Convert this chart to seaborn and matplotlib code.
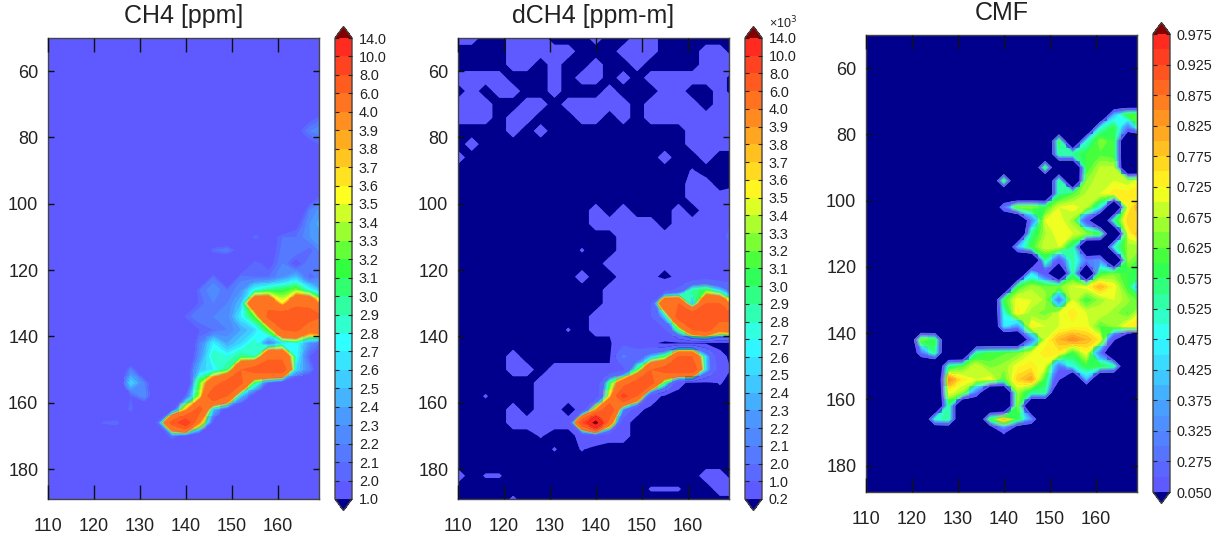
import numpy as np
import pandas as pd
import matplotlib
matplotlib.use("Agg")
import matplotlib.pyplot as plt
from matplotlib.colors import BoundaryNorm, ListedColormap
import seaborn as sns

X_NODES = [110, 113, 116, 119, 122, 125, 128, 131, 134, 137, 140, 143, 146, 149, 152, 155, 158, 161, 164, 167, 170]
Y_NODES = [50, 54, 58, 62, 66, 70, 74, 78, 82, 86, 90, 94, 98, 102, 106, 110, 114, 118, 122, 126, 130, 134, 138, 142, 146, 150, 154, 158, 162, 166, 170, 174, 178, 182, 186, 190]
X_TICKS = [110, 120, 130, 140, 150, 160]
Y_TICKS = [60, 80, 100, 120, 140, 160, 180]

o = 1.5
CH4 = [
 [o,o,o,o,o,o,o,o,o,o,o,o,o,o,o,o,o,o,o,o,o],
 [o,o,o,o,o,o,o,o,o,o,o,o,o,o,o,o,o,o,o,o,o],
 [o,o,o,o,o,o,o,o,o,o,o,o,o,o,o,o,o,o,o,o,o],
 [o,o,o,o,o,o,o,o,o,o,o,o,o,o,o,o,o,o,o,o,o],
 [o,o,o,o,o,o,o,o,o,o,o,o,o,o,o,o,o,o,o,o,o],
 [o,o,o,o,o,o,o,o,o,o,o,o,o,o,o,o,o,o,o,o,o],
 [o,o,o,o,o,o,o,o,o,o,o,o,o,o,o,o,o,o,o,1.9,2.1],
 [o,o,o,o,o,o,o,o,o,o,o,o,o,o,o,o,o,o,1.9,2.2,2.3],
 [o,o,o,o,o,o,o,o,o,o,o,o,o,o,o,o,o,o,o,1.9,2.05],
 [o,o,o,o,o,o,o,o,o,o,o,o,o,o,o,o,o,o,o,o,1.9],
 [o,o,o,o,o,o,o,o,o,o,o,o,o,o,o,o,o,o,o,o,1.9],
 [o,o,o,o,o,o,o,o,o,o,o,o,o,o,o,o,o,o,o,o,1.9],
 [o,o,o,o,o,o,o,o,o,o,o,o,o,o,o,o,o,o,o,1.8,2.1],
 [o,o,o,o,o,o,o,o,o,o,o,o,o,o,o,o,o,o,o,2.2,2.4],
 [o,o,o,o,o,o,o,o,o,o,o,o,o,o,o,o,o,o,1.9,2.3,2.5],
 [o,o,o,o,o,o,o,o,o,o,o,o,o,o,o,2.1,1.8,2.1,2.1,2.3,2.4],
 [o,o,o,o,o,o,o,o,o,o,o,o,2.1,2.2,1.8,o,1.8,2.15,2.2,2.05,2.3],
 [o,o,o,o,o,o,o,o,o,o,o,o,o,o,o,2.1,1.9,2.2,1.9,2.2,2.1],
 [o,o,o,o,o,o,o,o,o,o,o,o,2.1,o,2.15,2.1,2.1,2.3,2.5,2.05,2.2],
 [o,o,o,o,o,o,o,o,o,o,o,2.1,2.3,2.1,2.3,2.8,3.0,3.1,3.3,2.8,2.4],
 [o,o,o,o,o,o,o,o,o,o,o,2.05,2.2,2.2,2.5,5.5,5.5,3.6,5.5,5.5,3.5],
 [o,o,o,o,o,o,o,o,o,o,2.05,2.2,2.2,2.25,2.7,3.2,6.5,7.5,7.5,7.0,6.0],
 [o,o,o,o,o,o,o,o,o,o,o,2.0,2.1,2.2,2.4,2.6,3.2,6.0,6.5,4.5,5.0],
 [o,o,o,o,o,o,o,o,o,o,o,2.2,2.7,2.4,2.6,2.9,2.2,2.6,2.8,2.3,2.0],
 [o,o,o,o,o,o,o,o,o,o,o,2.3,2.9,2.8,3.0,2.9,5.5,5.5,2.8,2.0,o],
 [o,o,o,o,o,o,2.2,o,o,o,1.8,2.5,2.7,3.0,6.0,7.0,7.5,7.5,2.6,2.2,o],
 [o,o,o,o,o,o,2.6,2.2,o,o,o,3.2,5.0,7.0,6.5,3.0,2.0,o,o,o,o],
 [o,o,o,o,o,o,2.0,2.3,o,o,2.05,3.4,8.0,6.0,2.5,1.8,o,o,o,o,o],
 [o,o,o,o,o,o,2.1,o,o,1.8,3.8,7.0,2.5,1.8,o,o,o,o,o,o,o],
 [o,o,o,o,2.05,2.1,o,o,2.1,7.0,10.0,4.0,1.9,o,o,o,o,o,o,o,o],
 [o,o,o,o,o,o,o,o,o,2.15,1.8,o,o,o,o,o,o,o,o,o,o],
 [o,o,o,o,o,o,o,o,o,o,o,o,o,o,o,o,o,o,o,o,o],
 [o,o,o,o,o,o,o,o,o,o,o,o,o,o,o,o,o,o,o,o,o],
 [o,o,o,o,o,o,o,o,o,o,o,o,o,o,o,o,o,o,o,o,o],
 [o,o,o,o,o,o,o,o,o,o,o,o,o,o,o,o,o,o,o,o,o],
 [o,o,o,o,2.05,o,o,o,o,o,o,o,o,o,o,o,o,o,o,o,o],
]

n = 0.1
a = 0.3
s = 0.22
DCH4 = [
 [a,a,n,n,a,a,a,n,n,n,a,n,n,a,a,n,n,n,n,n,n],
 [n,n,n,n,a,a,a,a,a,n,n,n,a,a,a,n,n,n,a,a,n],
 [n,n,n,n,a,a,n,a,n,n,a,n,n,a,n,n,n,n,a,a,a],
 [a,a,a,a,n,n,n,a,n,a,a,n,a,n,a,a,a,a,a,a,n],
 [n,a,n,a,a,n,n,a,n,n,n,a,n,n,n,a,a,n,n,a,n],
 [a,a,a,n,n,a,a,n,a,a,a,a,a,n,a,a,a,a,n,a,a],
 [a,a,a,n,a,a,n,n,n,a,a,n,a,n,a,a,a,a,a,a,a],
 [n,n,n,n,a,n,a,n,n,n,n,n,n,n,n,n,n,a,a,a,a],
 [n,a,n,n,n,n,n,n,n,n,n,n,n,n,n,n,n,a,a,a,a],
 [a,n,n,n,n,n,n,n,n,n,n,n,n,n,n,a,n,n,a,n,n],
 [n,n,n,n,n,n,n,n,n,n,n,n,n,n,n,n,n,s,n,n,n],
 [n,n,n,n,n,n,n,n,n,n,n,n,n,n,n,n,n,a,a,n,n],
 [n,n,n,n,n,n,n,n,n,n,n,n,n,n,n,n,n,a,a,a,0.5],
 [n,n,n,n,n,n,n,n,n,n,a,n,a,n,n,n,a,n,a,0.6,0.9],
 [n,n,n,n,n,n,n,n,n,n,a,a,a,a,a,n,a,a,a,0.6,1.1],
 [n,n,n,n,n,n,n,n,n,n,n,n,a,a,a,a,a,a,a,0.8,1.3],
 [n,n,n,n,n,n,n,n,n,s,n,n,a,a,a,a,a,a,a,a,0.8],
 [n,n,n,n,n,n,n,n,n,n,n,a,a,a,a,a,a,a,a,a,0.6],
 [n,n,n,n,n,n,n,n,n,a,n,n,a,a,a,n,a,a,0.6,a,0.6],
 [n,n,n,n,n,n,n,n,n,n,n,a,a,a,a,0.7,1.2,2.9,3.1,2.5,1.5],
 [n,n,n,n,n,n,n,n,n,n,n,a,a,a,0.9,6.0,6.0,2.3,6.0,6.0,3.5],
 [n,n,n,n,n,n,n,n,n,n,a,a,a,a,1.0,2.5,7.0,8.0,8.0,7.0,6.5],
 [n,n,n,n,n,n,n,n,s,n,a,a,a,a,a,0.9,3.0,6.0,7.0,4.5,5.0],
 [n,n,n,n,n,n,n,n,n,n,n,n,0.8,0.6,a,n,n,n,n,n,n],
 [n,n,n,n,a,n,n,n,n,n,n,n,2.2,1.5,2.4,3.0,6.0,6.0,2.5,a,n],
 [n,n,n,n,a,a,n,a,a,a,a,a,0.8,3.0,6.0,7.0,8.0,8.0,2.5,0.6,n],
 [n,n,n,n,n,n,a,a,a,a,a,3.0,5.0,7.0,7.0,3.0,a,n,n,s,n],
 [n,n,s,n,n,n,a,a,a,a,a,3.6,9.0,6.0,0.5,n,n,n,n,n,n],
 [n,n,n,n,a,n,a,a,n,a,3.9,8.0,2.2,a,n,n,n,n,n,n,n],
 [n,n,n,n,a,a,a,a,a,8.0,16.0,5.0,a,n,n,n,n,n,n,n,n],
 [n,n,n,n,n,n,s,n,n,a,0.5,a,a,n,n,n,n,n,n,n,n],
 [n,n,n,n,n,n,n,s,n,s,n,n,n,n,n,n,n,n,n,n,n],
 [n,n,n,n,n,n,n,n,n,n,n,n,n,n,n,n,n,n,n,n,n],
 [a,n,s,s,n,n,n,n,n,n,n,n,n,n,n,n,n,n,a,a,n],
 [n,n,n,n,n,n,n,n,n,n,n,n,n,n,s,s,s,n,n,a,a],
 [s,n,n,n,a,n,n,n,n,n,n,n,n,n,n,n,n,n,n,n,n],
]

z = -0.5
CMF = [
 [z,z,z,z,z,z,z,z,z,z,z,z,z,z,z,z,z,z,z,z,z],
 [z,z,z,z,z,z,z,z,z,z,z,z,z,z,z,z,z,z,z,z,z],
 [z,z,z,z,z,z,z,z,z,z,z,z,z,z,z,z,z,z,z,z,z],
 [z,z,z,z,z,z,z,z,z,z,z,z,z,z,z,z,z,z,z,z,z],
 [z,z,z,z,z,z,z,z,z,z,z,z,z,z,z,z,z,z,z,z,z],
 [z,z,z,z,z,z,z,z,z,z,z,z,z,z,z,z,z,z,z,z,z],
 [z,z,z,z,z,z,z,z,z,z,z,z,z,z,z,z,z,z,0.4,0.62,0.62],
 [z,z,z,z,z,z,z,z,z,z,z,z,z,z,z,z,z,0.5,0.6,0.3,0.6],
 [z,z,z,z,z,z,z,z,z,z,z,z,z,z,0.6,z,0.5,0.65,0.6,z,z],
 [z,z,z,z,z,z,z,z,z,z,z,z,z,z,0.55,0.55,0.6,0.62,0.6,z,z],
 [z,z,z,z,z,z,z,z,z,z,z,z,z,0.6,z,z,0.6,0.68,0.68,z,z],
 [z,z,z,z,z,z,z,z,z,z,0.6,z,z,z,0.55,z,0.65,0.7,0.7,0.68,0.72],
 [z,z,z,z,z,z,z,z,z,z,z,z,z,z,0.55,0.62,0.68,0.7,0.74,0.74,0.74],
 [z,z,z,z,z,z,z,z,z,z,0.3,0.65,0.66,0.6,0.7,0.72,0.68,0.5,z,0.72,0.85],
 [z,z,z,z,z,z,z,z,z,z,z,z,0.3,0.7,0.72,0.66,0.2,z,0.55,0.77,0.77],
 [z,z,z,z,z,z,z,z,z,z,z,z,0.55,0.67,0.72,0.7,0.66,0.6,z,0.72,0.82],
 [z,z,z,z,z,z,z,z,z,z,z,0.4,0.6,0.7,0.7,0.55,z,z,0.5,0.66,0.66],
 [z,z,z,z,z,z,z,z,z,z,z,z,z,0.55,0.2,0.55,0.3,0.35,z,0.66,0.6],
 [z,z,z,z,z,z,z,z,z,z,z,z,0.45,0.2,z,0.55,z,0.6,0.64,0.6,0.6],
 [z,z,z,z,z,z,z,z,z,z,z,0.6,0.67,0.64,0.64,0.7,0.72,0.8,0.72,0.6,0.3],
 [z,z,z,z,z,z,z,z,z,z,0.6,0.72,0.7,0.67,0.3,0.7,0.6,0.66,0.7,0.66,0.6],
 [z,z,z,z,z,z,z,z,z,z,0.5,0.74,0.66,0.64,0.7,0.74,0.7,0.7,0.66,0.62,0.72],
 [z,z,z,z,z,z,z,z,z,z,0.45,0.35,0.74,0.7,0.7,0.72,0.72,0.62,0.66,0.74,0.74],
 [z,z,z,z,0.65,0.6,z,z,z,z,z,z,0.3,0.7,0.8,0.85,0.8,0.74,0.1,z,z],
 [z,z,z,z,0.3,0.55,z,z,0.55,0.6,0.62,0.64,0.7,0.74,0.74,0.6,0.72,0.3,z,z,z],
 [z,z,z,z,z,z,0.55,0.62,0.7,0.64,0.66,0.72,0.74,0.7,0.3,0.5,0.6,0.6,0.55,z,z],
 [z,z,z,z,z,z,0.85,0.74,0.7,0.72,0.62,0.77,0.82,0.6,0.1,z,0.4,z,z,z,z],
 [z,z,z,z,z,z,0.72,0.66,0.3,z,z,0.66,0.55,0.55,z,z,z,z,z,z,z],
 [z,z,z,z,z,z,0.55,z,z,z,z,0.66,z,z,z,z,z,z,z,z,z],
 [z,z,z,z,z,0.5,0.55,z,z,0.6,0.8,0.6,0.35,z,z,z,z,z,z,z,z],
 [z,z,z,z,z,z,z,z,z,z,0.15,z,z,z,z,z,z,z,z,z,z],
 [z,z,z,z,z,z,z,z,z,z,z,z,z,z,z,z,z,z,z,z,z],
 [z,z,z,z,z,z,z,z,z,z,z,z,z,z,z,z,z,z,z,z,z],
 [z,z,z,z,z,z,z,z,z,z,z,z,z,z,z,z,z,z,z,z,z],
 [z,z,z,z,z,z,z,z,z,z,z,z,z,z,z,z,z,z,z,z,z],
 [z,z,z,z,z,z,z,z,z,z,z,z,z,z,z,z,z,z,z,z,z],
]

CH4_LEVELS = [1.0, 2.0, 2.1, 2.2, 2.3, 2.4, 2.5, 2.6, 2.7, 2.8, 2.9, 3.0, 3.1, 3.2, 3.3, 3.4, 3.5, 3.6, 3.7, 3.8, 3.9, 4.0, 6.0, 8.0, 10.0, 14.0]
DCH4_LEVELS = [0.2, 1.0, 2.0, 2.1, 2.2, 2.3, 2.4, 2.5, 2.6, 2.7, 2.8, 2.9, 3.0, 3.1, 3.2, 3.3, 3.4, 3.5, 3.6, 3.7, 3.8, 3.9, 4.0, 6.0, 8.0, 10.0, 14.0]
CMF_LEVELS = [0.05, 0.25, 0.275, 0.3, 0.325, 0.35, 0.375, 0.4, 0.425, 0.45, 0.475, 0.5, 0.525, 0.55, 0.575, 0.6, 0.625, 0.65, 0.675, 0.7, 0.725, 0.75, 0.775, 0.8, 0.825, 0.85, 0.875, 0.9, 0.925, 0.95, 0.975]
CMF_TICKS = [0.05, 0.275, 0.325, 0.375, 0.425, 0.475, 0.525, 0.575, 0.625, 0.675, 0.725, 0.775, 0.825, 0.875, 0.925, 0.975]

ANCHORS = ["#5f5aff", "#4a9bff", "#30ffff", "#30ff40", "#ffff20", "#ff9020", "#ff2a20"]
UNDER = "#00008c"
OVER = "#820000"
W, H = 1219, 539
EXT = 0.025

sns.set_theme(style="white")
plt.rcParams["font.family"] = ["Liberation Sans", "DejaVu Sans"]
fig = plt.figure(figsize=(W / 100, H / 100), dpi=100)


def box(l, t, r, b):
    return [l / W, 1 - b / H, (r - l) / W, (b - t) / H]


def panel(values, levels, ticks, fmt, title, main, bar, ylim_max):
    frame = pd.DataFrame(values, index=Y_NODES, columns=X_NODES)
    cmap = ListedColormap(sns.blend_palette(ANCHORS, n_colors=len(levels) - 1))
    cmap.set_under(UNDER)
    cmap.set_over(OVER)
    norm = BoundaryNorm(levels, cmap.N)
    ax = fig.add_axes(box(*main))
    body = bar[3] - bar[1]
    cax = fig.add_axes(box(bar[0], bar[1] - EXT * body, bar[2], bar[3] + EXT * body))
    sns.heatmap(frame, ax=ax, cbar_ax=cax, cmap=cmap, norm=norm,
                xticklabels=False, yticklabels=False,
                cbar_kws=dict(extend="both", extendfrac=EXT, ticks=ticks, spacing="uniform"))
    gx = np.arange(len(X_NODES)) + 0.5
    gy = np.arange(len(Y_NODES)) + 0.5
    ax.contourf(gx, gy, frame.values, levels=levels, cmap=cmap, norm=norm, extend="both", antialiased=True)

    to_x = lambda v: np.interp(v, X_NODES, gx)
    to_y = lambda v: np.interp(v, Y_NODES, gy)
    ax.set_axisbelow(False)
    ax.set_xlim(to_x(110), to_x(169))
    ax.set_ylim(to_y(ylim_max), to_y(50))
    ax.set_xticks([to_x(v) for v in X_TICKS], [str(v) for v in X_TICKS])
    ax.set_yticks([to_y(v) for v in Y_TICKS], [str(v) for v in Y_TICKS])
    ax.set_xlabel("")
    ax.set_ylabel("")
    ax.tick_params(axis="x", direction="in", length=10, width=1, color="#111111", top=True, bottom=True,
                   labelsize=13, pad=14, labelcolor="#222222")
    ax.tick_params(axis="y", direction="in", length=4.5, width=1, color="#111111", left=True, right=True,
                   labelsize=13, pad=7, labelcolor="#222222")
    for sp in ax.spines.values():
        sp.set_visible(True)
        sp.set_color("#444444")
        sp.set_linewidth(1)
    ax.set_title(title, fontsize=18, color="#222222", pad=11)

    cb = ax.collections[0].colorbar
    cb.outline.set_visible(True)
    cb.outline.set_linewidth(1)
    cb.outline.set_edgecolor("#444444")
    cb.ax.minorticks_off()
    cb.set_ticks(ticks, labels=[fmt.format(v) for v in ticks])
    cb.ax.set_axisbelow(False)
    cb.ax.tick_params(direction="in", length=3, width=0.8, color="#222222", right=True, left=True,
                      labelsize=10.4, pad=5, labelcolor="#222222")
    return ax, cb


panel(CH4, CH4_LEVELS, CH4_LEVELS, "{:.1f}", "CH4 [ppm]", (48, 38, 319, 499), (335, 38, 352, 499), 189)
panel(DCH4, DCH4_LEVELS, DCH4_LEVELS, "{:.1f}", "dCH4 [ppm-m]", (458, 38, 729, 499), (745, 38, 762, 499), 189)
panel(CMF, CMF_LEVELS, CMF_TICKS, "{:.3f}", "CMF", (866, 35, 1137, 492), (1153, 34, 1170, 492), 188)
fig.text(769 / W, 1 - 23 / H, "×10$^{3}$", fontsize=9, color="#222222", va="center")

fig.savefig("out.png", dpi=100)
